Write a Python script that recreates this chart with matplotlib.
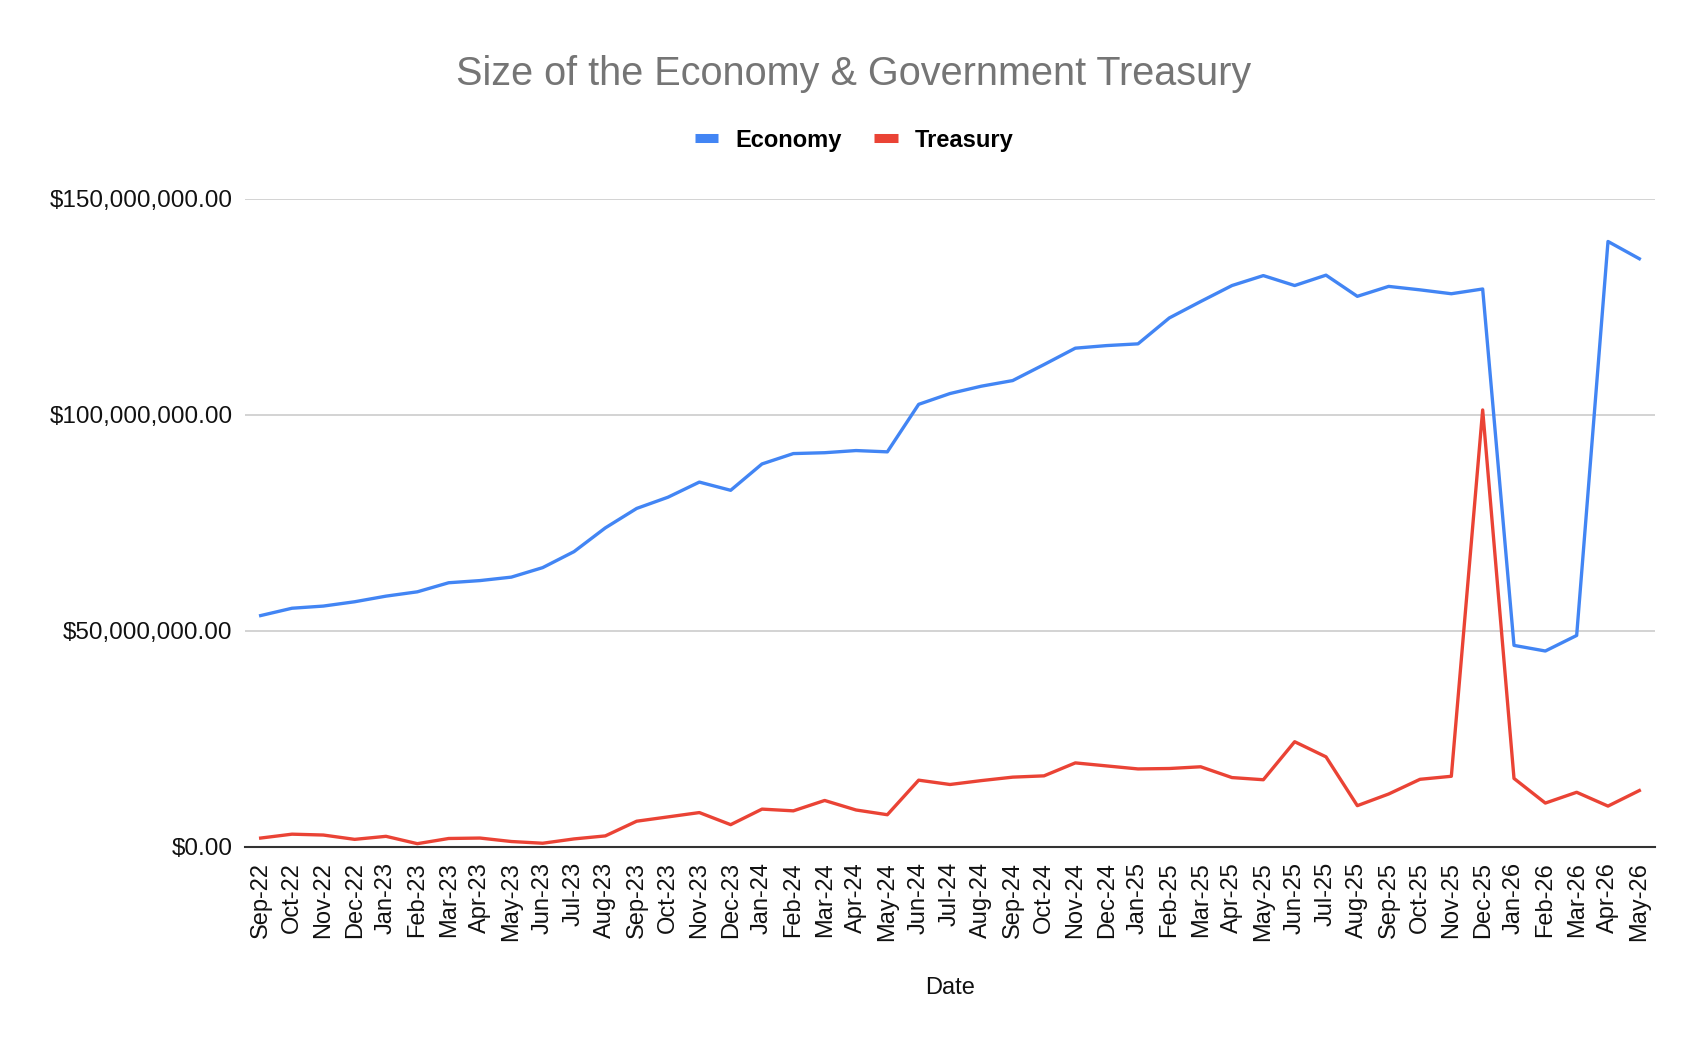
import matplotlib
matplotlib.use("Agg")
import matplotlib.pyplot as plt
from matplotlib.lines import Line2D
from matplotlib.ticker import FuncFormatter, MultipleLocator

plt.rcParams['font.family'] = ['Liberation Sans', 'DejaVu Sans']

dates = ["Sep-22", "Oct-22", "Nov-22", "Dec-22",
         "Jan-23", "Feb-23", "Mar-23", "Apr-23", "May-23", "Jun-23",
         "Jul-23", "Aug-23", "Sep-23", "Oct-23", "Nov-23", "Dec-23",
         "Jan-24", "Feb-24", "Mar-24", "Apr-24", "May-24", "Jun-24",
         "Jul-24", "Aug-24", "Sep-24", "Oct-24", "Nov-24", "Dec-24",
         "Jan-25", "Feb-25", "Mar-25", "Apr-25", "May-25", "Jun-25",
         "Jul-25", "Aug-25", "Sep-25", "Oct-25", "Nov-25", "Dec-25",
         "Jan-26", "Feb-26", "Mar-26", "Apr-26", "May-26"]

# values in millions of dollars
economy_m = [53.5, 55.2, 55.7, 56.7, 58.0, 59.0, 61.1, 61.6, 62.4, 64.6,
             68.3, 73.8, 78.3, 80.9, 84.4, 82.5,
             88.6, 91.0, 91.2, 91.7, 91.4, 102.4,
             104.9, 106.6, 107.9, 111.6, 115.4, 116.0,
             116.4, 122.4, 126.2, 129.9, 132.2, 129.9,
             132.3, 127.4, 129.7, 128.9, 128.0, 129.1,
             46.6, 45.3, 48.9, 140.1, 136.1]

treasury_m = [2.0, 2.9, 2.7, 1.7, 2.4, 0.7, 1.9, 2.0, 1.2, 0.8,
              1.8, 2.5, 5.9, 6.9, 7.9, 5.1,
              8.7, 8.3, 10.7, 8.5, 7.4, 15.4,
              14.4, 15.3, 16.1, 16.4, 19.4, 18.7,
              18.0, 18.1, 18.5, 16.0, 15.5, 24.3,
              20.8, 9.5, 12.2, 15.6, 16.3, 101.1,
              15.8, 10.1, 12.6, 9.4, 13.0]

economy = [v * 1e6 for v in economy_m]
treasury = [v * 1e6 for v in treasury_m]

BLUE = "#4285F4"
RED = "#EA4335"

fig = plt.figure(figsize=(17.08, 10.52), dpi=100)
ax = fig.add_axes([245 / 1708, 1 - 846.7 / 1052, (1655 - 245) / 1708, (846.7 - 198.7) / 1052])

x = list(range(len(dates)))
ax.plot(x, economy, color=BLUE, lw=2.4, solid_joinstyle='round', zorder=3)
ax.plot(x, treasury, color=RED, lw=2.4, solid_joinstyle='round', zorder=3)

ax.set_xlim(-0.5, len(dates) - 0.5)
ax.set_ylim(0, 150e6)
ax.yaxis.set_major_locator(MultipleLocator(50e6))
ax.yaxis.set_major_formatter(FuncFormatter(lambda v, p: "${:,.2f}".format(v)))
ax.set_xticks(x)
ax.set_xticklabels(dates, rotation=90, fontsize=17, color="#111111")
ax.tick_params(axis='x', length=0, pad=11)
ax.tick_params(axis='y', length=0, pad=9, labelsize=17.5, labelcolor="#111111")

ax.grid(axis='y', color="#c8c8c8", lw=1.1, zorder=0)
ax.grid(axis='x', visible=False)
for s in ['top', 'right', 'left']:
    ax.spines[s].set_visible(False)
ax.spines['bottom'].set_color("#333333")
ax.spines['bottom'].set_linewidth(1.5)
ax.spines['bottom'].set_zorder(4)

ax.set_xlabel("Date", fontsize=17, color="#111111", labelpad=26)

fig.text(0.5, 1 - 74 / 1052, "Size of the Economy & Government Treasury",
         ha='center', va='center', fontsize=28.5, color="#757575")

handles = [Line2D([0], [0], color=BLUE, lw=6.5, solid_capstyle='butt'),
           Line2D([0], [0], color=RED, lw=6.5, solid_capstyle='butt')]
leg = fig.legend(handles, ["Economy", "Treasury"], loc='center',
                 bbox_to_anchor=(0.5, 1 - 140 / 1052), ncol=2, frameon=False,
                 prop={'size': 17, 'weight': 'bold'}, handlelength=1.0,
                 handletextpad=0.7, columnspacing=1.4)

fig.savefig("out.png", dpi=100)
